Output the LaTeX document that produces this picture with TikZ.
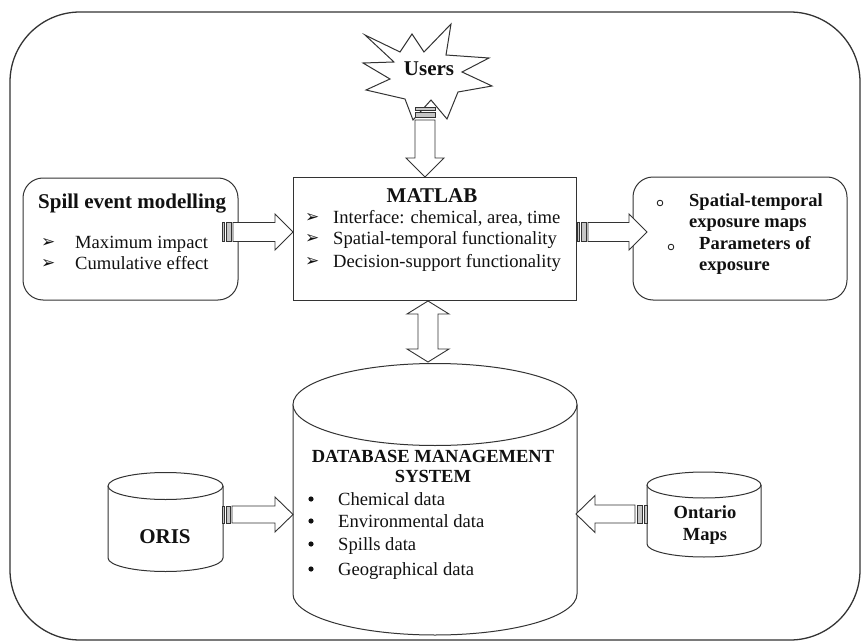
\documentclass[tikz,border=0pt]{standalone}
\usepackage{fontspec}
\setmainfont{Liberation Serif}
\newfontfamily\dejavu{DejaVu Sans}
\definecolor{linec}{HTML}{333333}
\definecolor{txtc}{HTML}{111111}
\newcommand\harrow[7]{% x0 xs xh xt yc sh hh
  \path[barfill] ({#1},{#5-#6}) rectangle ({#1+0.22*(#2-#1)},{#5+#6});
  \path[barfill] ({#1+0.4*(#2-#1)},{#5-#6}) rectangle ({#1+0.8*(#2-#1)},{#5+#6});
  \draw[blockarrow] ({#2},{#5-#6}) -- ({#3},{#5-#6}) -- ({#3},{#5-#7}) -- ({#4},{#5})
    -- ({#3},{#5+#7}) -- ({#3},{#5+#6}) -- ({#2},{#5+#6}) -- cycle;}
\newcommand\varrow[7]{% y0 ys yh yt xc sh hh
  \path[barfill] ({#5-#6},{#1}) rectangle ({#5+#6},{#1+0.22*(#2-#1)});
  \path[barfill] ({#5-#6},{#1+0.4*(#2-#1)}) rectangle ({#5+#6},{#1+0.8*(#2-#1)});
  \draw[blockarrow] ({#5-#6},{#2}) -- ({#5-#6},{#3}) -- ({#5-#7},{#3}) -- ({#5},{#4})
    -- ({#5+#7},{#3}) -- ({#5+#6},{#3}) -- ({#5+#6},{#2}) -- cycle;}
\newcommand\cyl[6]{% name cx rx ty by ry
  \draw[shapeline] ({#2-#3},{#4}) -- ({#2-#3},{#5})
    arc[start angle=180,end angle=0,x radius=#3,y radius=#6] -- ({#2+#3},{#4});
  \draw[shapeline] (#2,#4) ellipse [x radius=#3, y radius=#6];
  \coordinate (#1) at (#2,{(#4+#5)/2});}
\tikzset{
  x=1pt, y=-1pt,
  shapeline/.style={draw=linec, line width=1pt, fill=white},
  blockarrow/.style={draw=linec, line width=0.9pt, fill=white, line join=miter},
  barfill/.style={draw=linec, line width=0.6pt, fill=gray!45},
  bold21/.style={font=\bfseries\fontsize{21}{24}\selectfont, text=txtc, inner sep=0pt},
  bold18/.style={font=\bfseries\fontsize{18.5}{22}\selectfont, text=txtc, inner sep=0pt},
  reg/.style={font=\fontsize{18.6}{22}\selectfont, text=txtc, inner sep=0pt, anchor=base west},
  arrbul/.style={font=\dejavu\fontsize{17}{18}\selectfont, text=txtc, inner sep=0pt, anchor=base west},
}
\begin{document}
\begin{tikzpicture}
\useasboundingbox (0,0) rectangle (863,642);
% outer frame
\draw[draw=linec, line width=1.3pt, rounded corners=70pt] (10,12) rectangle (860,640);

% boxes
\draw[shapeline, rounded corners=20pt] (23,178) rectangle (238,300);
\node[coordinate] (spill) at (130,239) {};
\draw[shapeline] (293,177) rectangle (576,300);
\node[coordinate] (matlab) at (434,238) {};
\draw[shapeline, rounded corners=20pt] (633,177) rectangle (847,300);
\node[coordinate] (outbox) at (740,238) {};

% Users starburst
\draw[shapeline, line join=miter] (365,35) -- (400,52) -- (412,34) -- (424,52) -- (451,24) -- (446,55)
  -- (489,58) -- (462,72) -- (492,86) -- (458,92) -- (447,119) -- (431,100) -- (413,120)
  -- (405,99) -- (366,90) -- (390,79) -- (363,63) -- (394,62) -- cycle;
\node[bold21, anchor=base] (users) at (429,76) {Users};

% Spill text
\node[bold21, anchor=base west] (spilltitle) at (38,208) {Spill event modelling};
\node[arrbul] (sb1) at (41,247) {➢};
\node[reg] (st1) at (75,248) {Maximum impact};
\node[arrbul] (sb2) at (41,268) {➢};
\node[reg] (st2) at (75,269) {Cumulative effect};

% MATLAB text
\node[bold21, anchor=base] (mtitle) at (432,202) {MATLAB};
\node[arrbul] (mb1) at (305,222) {➢};
\node[reg] (mt1) at (333,223) {Interface: chemical, area, time};
\node[arrbul] (mb2) at (305,243) {➢};
\node[reg] (mt2) at (333,244) {Spatial-temporal functionality};
\node[arrbul] (mb3) at (305,266) {➢};
\node[reg] (mt3) at (333,267) {Decision-support functionality};

% output box text
\draw[draw=txtc, line width=0.8pt] (660,203) circle (2.8);
\draw[draw=txtc, line width=0.8pt] (671,247) circle (2.8);
\node[bold18, anchor=base west] (o1) at (689,206) {Spatial-temporal};
\node[bold18, anchor=base west] (o2) at (689,227) {exposure maps};
\node[bold18, anchor=base west] (o3) at (699,249) {Parameters of};
\node[bold18, anchor=base west] (o4) at (699,270) {exposure};

% cylinders
\cyl{db}{435}{142}{404.5}{594}{41}
\cyl{oris}{165.5}{57.5}{486}{558}{13.5}
\cyl{ontario}{704}{57}{485}{544}{13}

% DB text
\node[bold18, anchor=base] (dbt1) at (433,462) {DATABASE MANAGEMENT};
\node[bold18, anchor=base] (dbt2) at (433,482) {SYSTEM};
\foreach \yy/\tt [count=\i] in {505/Chemical data, 527/Environmental data, 550/Spills data, 575/Geographical data}{
  \fill[txtc] (311,\yy-6) circle (2.6);
  \node[reg] (dbi\i) at (338,\yy) {\tt};
}
\node[bold21, anchor=base] (oristxt) at (165,543) {ORIS};
\node[bold18, anchor=base] (ont1) at (705,518) {Ontario};
\node[bold18, anchor=base] (ont2) at (705,540) {Maps};

% block arrows
\varrow{107}{120}{158}{177}{425}{10}{19}
\harrow{222}{233}{275}{293}{232}{9.5}{18}
\harrow{577}{588}{629}{647}{232}{9.5}{18}
\harrow{222}{232}{275}{293}{514.5}{8.5}{17.5}
\harrow{647}{635}{595}{576}{514}{9}{18.5}
% double arrow MATLAB <-> DB
\draw[blockarrow] (418,314) -- (407,314) -- (428,301) -- (449,314) -- (438,314) -- (438,349)
  -- (449,349) -- (428,362) -- (407,349) -- (418,349) -- cycle;
\end{tikzpicture}
\end{document}
